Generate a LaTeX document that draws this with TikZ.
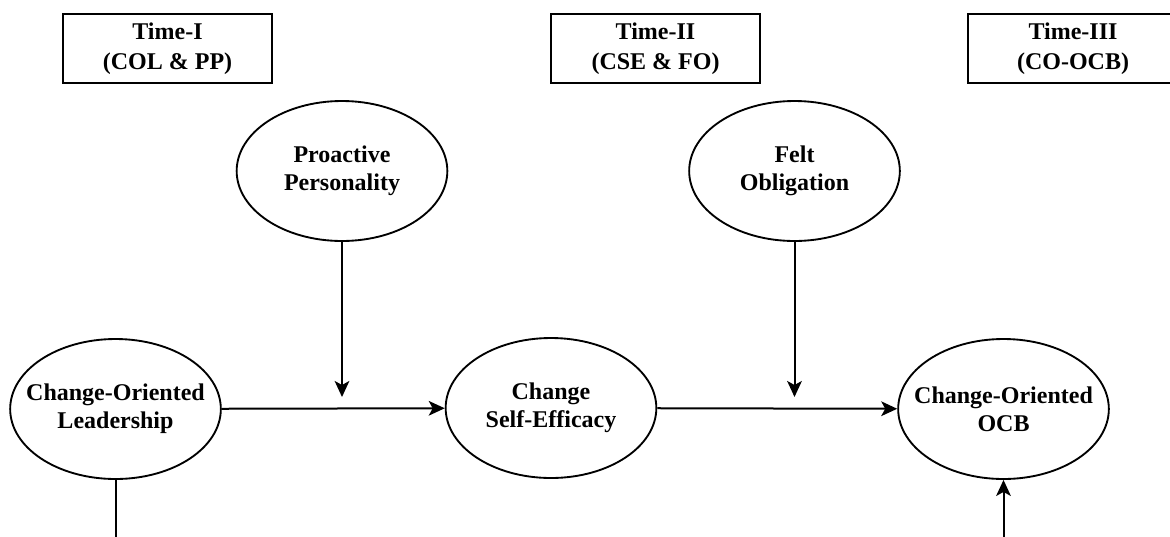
\documentclass[tikz,border=0pt]{standalone}
\usepackage{fontspec}
\setmainfont{Liberation Serif}
\usetikzlibrary{shapes.geometric, arrows.meta}
\tikzset{
Construct/.style={
	draw, ellipse,
	align=center,
	line width=1.4pt,
	minimum width=158pt,
	minimum height=105pt,
	inner xsep=-12pt,
	inner ysep=0pt,
	font=\bfseries\fontsize{18}{21}\selectfont
},
TimeBox/.style={
	draw, rectangle,
	align=center,
	line width=1.4pt,
	minimum width=157pt,
	minimum height=52pt,
	inner sep=0pt,
	font=\bfseries\fontsize{18}{22.5}\selectfont
},
Edge/.style={
	draw=black,
	line width=1.5pt
},
ArrowEdge/.style={
	Edge,
	-{Stealth[length=12pt, width=11pt, inset=3pt]}
}
}

\begin{document}
\begin{tikzpicture}[x=0.75pt, y=-0.75pt]
	\clip (0,0) rectangle (1170,536);

	\node[TimeBox] (T1) at (167.5,48.5) {Time-I\\(COL \& PP)};
	\node[TimeBox] (T2) at (655.5,48.5) {Time-II\\(CSE \& FO)};
	\node[TimeBox] (T3) at (1073,48.5) {Time-III\\(CO-OCB)};

	\node[Construct] (PP) at (342,171) {Proactive\\Personality};
	\node[Construct] (FO) at (794.5,171) {Felt\\Obligation};

	\node[Construct] (COL) at (115.5,409) {Change-Oriented\\Leadership};
	\node[Construct] (CSE) at (551,408) {Change\\Self-Efficacy};
	\node[Construct] (OCB) at (1003.5,409) {Change-Oriented\\OCB};

	\coordinate (PPend) at (342,397);
	\coordinate (FOend) at (794.5,397);
	\coordinate (COLend) at (115.5,545);
	\coordinate (OCBstart) at (1003.5,545);

	\draw[ArrowEdge] (COL) -- (CSE);
	\draw[ArrowEdge] (CSE) -- (OCB);
	\draw[ArrowEdge] (PP) -- (PPend);
	\draw[ArrowEdge] (FO) -- (FOend);
	\draw[Edge] (COL) -- (COLend);
	\draw[ArrowEdge] (OCBstart) -- (OCB);
\end{tikzpicture}
\end{document}
